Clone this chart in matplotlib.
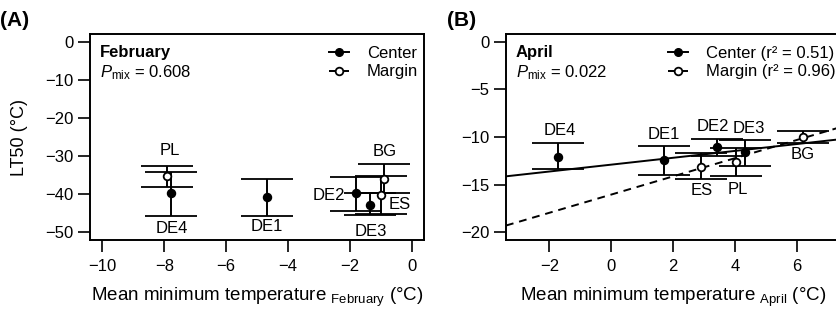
import matplotlib
matplotlib.use('Agg')
import matplotlib.pyplot as plt
from matplotlib.lines import Line2D
import numpy as np

plt.rcParams['font.family'] = ['Liberation Sans', 'DejaVu Sans']
plt.rcParams['mathtext.fontset'] = 'custom'
plt.rcParams['mathtext.rm'] = 'Liberation Sans'
plt.rcParams['mathtext.it'] = 'Liberation Sans:italic'
plt.rcParams['font.size'] = 12

# ---- Panel A: February ----
feb_center_sites = ['DE1', 'DE2', 'DE3', 'DE4']
feb_center_x = np.array([-4.69, -1.79, -1.36, -7.79])
feb_center_y = np.array([-40.7, -39.7, -42.9, -39.8])
feb_center_lo = np.array([-45.7, -44.3, -45.5, -45.7])
feb_center_hi = np.array([-35.9, -35.4, -39.8, -34.1])

feb_margin_sites = ['PL', 'ES', 'BG']
feb_margin_x = np.array([-7.90, -0.98, -0.90])
feb_margin_y = np.array([-35.3, -40.3, -36.1])
feb_margin_lo = np.array([-38.1, -45.3, -39.8])
feb_margin_hi = np.array([-32.5, -35.3, -32.1])

# ---- Panel B: April ----
apr_center_sites = ['DE1', 'DE2', 'DE3', 'DE4']
apr_center_x = np.array([1.70, 3.41, 4.33, -1.71])
apr_center_y = np.array([-12.4, -11.0, -11.6, -12.07])
apr_center_lo = np.array([-14.0, -12.0, -13.0, -13.4])
apr_center_hi = np.array([-10.9, -10.2, -10.3, -10.6])

apr_margin_sites = ['ES', 'PL', 'BG']
apr_margin_x = np.array([2.91, 4.03, 6.19])
apr_margin_y = np.array([-13.1, -12.6, -10.0])
apr_margin_lo = np.array([-14.4, -14.1, -10.66])
apr_margin_hi = np.array([-11.7, -11.2, -9.34])

# fitted lines (intercept, slope) for April
apr_center_fit = (-12.90, 0.36)
apr_margin_fit = (-16.04, 0.954)

# label offsets in pixels (dx, dy) relative to each point
feb_offsets = {'DE1': (0, -30), 'DE2': (-27, -2), 'DE3': (1, -26), 'DE4': (1, -35),
               'PL': (2, 26), 'ES': (18, -9), 'BG': (1, 28)}
apr_offsets = {'DE1': (0, 25), 'DE2': (-4, 20), 'DE3': (4, 24), 'DE4': (2, 26),
               'ES': (1, -24), 'PL': (2, -28), 'BG': (0, -17)}


def draw_points(ax, x, y, lo, hi, filled):
    ax.errorbar(x, y, yerr=[y - lo, hi - y], fmt='o', ms=5.5,
                mfc='black' if filled else 'white', mec='black', mew=1.3,
                ecolor='black', elinewidth=1.4, capsize=19, capthick=1.4,
                zorder=3 if filled else 4)


def label_points(ax, sites, x, y, offsets):
    for s, xi, yi in zip(sites, x, y):
        dx, dy = offsets[s]
        ax.annotate(s, (xi, yi), xytext=(dx, dy), textcoords='offset pixels',
                    ha='center', va='center', fontsize=12)


def style_axes(ax):
    for sp in ax.spines.values():
        sp.set_linewidth(1.4)
    ax.tick_params(axis='both', length=8.5, width=1.2, labelsize=12)
    ax.tick_params(axis='y', pad=3.5)
    ax.tick_params(axis='x', pad=5)
    ax.xaxis.set_label_coords(0.5, -0.222)


fig = plt.figure(figsize=(8.36, 3.12), dpi=100)
W, H = 836, 312
axA = fig.add_axes([90 / W, 72 / H, 334 / W, 206 / H])
axB = fig.add_axes([506 / W, 72 / H, 334 / W, 206 / H])

# Panel A
draw_points(axA, feb_center_x, feb_center_y, feb_center_lo, feb_center_hi, True)
draw_points(axA, feb_margin_x, feb_margin_y, feb_margin_lo, feb_margin_hi, False)
label_points(axA, feb_center_sites, feb_center_x, feb_center_y, feb_offsets)
label_points(axA, feb_margin_sites, feb_margin_x, feb_margin_y, feb_offsets)
axA.set_xlim(-10.4, 0.4)
axA.set_ylim(-52, 2)
axA.set_xticks(np.arange(-10, 1, 2))
axA.set_yticks(np.arange(-50, 1, 10))
axA.set_ylabel('LT50 (°C)', fontsize=13)
axA.yaxis.set_label_coords(-0.185, 0.5)
axA.set_xlabel(r'Mean minimum temperature $_{\mathrm{February}}$ (°C)', fontsize=13.5)
axA.text(0.03, 0.908, 'February', transform=axA.transAxes, fontweight='bold',
         va='center', ha='left')
axA.text(0.03, 0.811, r'$\mathit{P}_{\mathrm{mix}}$ = 0.608', transform=axA.transAxes,
         va='center', ha='left')
style_axes(axA)

# Panel B
draw_points(axB, apr_center_x, apr_center_y, apr_center_lo, apr_center_hi, True)
draw_points(axB, apr_margin_x, apr_margin_y, apr_margin_lo, apr_margin_hi, False)
label_points(axB, apr_center_sites, apr_center_x, apr_center_y, apr_offsets)
label_points(axB, apr_margin_sites, apr_margin_x, apr_margin_y, apr_offsets)
axB.set_xlim(-3.4, 7.4)
axB.set_ylim(-20.8, 0.8)
xs = np.array(axB.get_xlim())
axB.plot(xs, apr_center_fit[0] + apr_center_fit[1] * xs, color='black', lw=1.4, zorder=2)
axB.plot(xs, apr_margin_fit[0] + apr_margin_fit[1] * xs, color='black', lw=1.4,
         dashes=(4, 3), zorder=2)
axB.set_xticks(np.arange(-2, 7, 2))
axB.set_yticks(np.arange(-20, 1, 5))
axB.set_xlabel(r'Mean minimum temperature $_{\mathrm{April}}$ (°C)', fontsize=13.5)
axB.text(0.03, 0.908, 'April', transform=axB.transAxes, fontweight='bold',
         va='center', ha='left')
axB.text(0.03, 0.811, r'$\mathit{P}_{\mathrm{mix}}$ = 0.022', transform=axB.transAxes,
         va='center', ha='left')
style_axes(axB)


def legend_handles():
    h1 = Line2D([], [], color='black', lw=1.4, marker='o', ms=5.5, mfc='black', mec='black')
    h2 = Line2D([], [], color='black', lw=1.4, dashes=(3.2, 4.3), marker='o', ms=5.5,
                mfc='white', mec='black', mew=1.3)
    return [h1, h2]


leg_kw = dict(frameon=False, handlelength=1.2, handletextpad=1.05, labelspacing=0.2,
              borderpad=0, borderaxespad=0, fontsize=12)
axA.legend(legend_handles(), ['Center', 'Margin'], loc='upper right',
           bbox_to_anchor=(1 - 6 / 334, 1 - 12 / 206), **leg_kw)
axB.legend(legend_handles(), ['Center (r² = 0.51)', 'Margin (r² = 0.96)'],
           loc='upper left', bbox_to_anchor=(162 / 334, 1 - 12 / 206), **leg_kw)

fig.text(0 / W, 1 - 21 / H, '(A)', fontweight='bold', fontsize=15, va='center', ha='left')
fig.text(447 / W, 1 - 21 / H, '(B)', fontweight='bold', fontsize=15, va='center', ha='left')

fig.savefig('out.png', dpi=100)
